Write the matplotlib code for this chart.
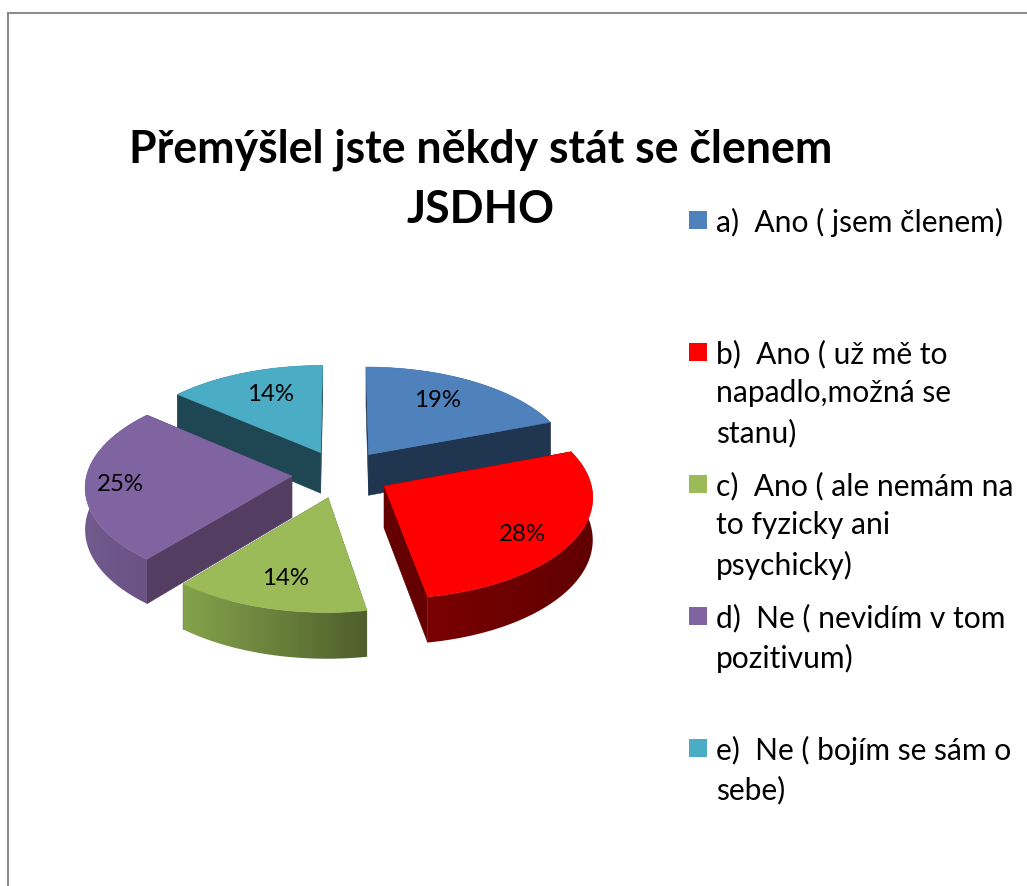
import matplotlib.pyplot as plt
import numpy as np
from matplotlib.colors import LinearSegmentedColormap
from matplotlib.patches import Polygon

plt.rcParams['font.family'] = ['Lato', 'DejaVu Sans']

title_lines = ["Přemýšlel jste někdy stát se členem", "JSDHO"]
categories = [
    "a)  Ano ( jsem členem)",
    "b)  Ano ( už mě to\nnapadlo,možná se\nstanu)",
    "c)  Ano ( ale nemám na\nto fyzicky ani\npsychicky)",
    "d)  Ne ( nevidím v tom\npozitivum)",
    "e)  Ne ( bojím se sám o\nsebe)",
]
values = [19.4, 27.8, 13.9, 25.0, 13.9]

top_colors = ['#4F81BD', '#FF0000', '#9BBB59', '#8064A2', '#4BACC6']
face_colors = ['#203550', '#640000', '#4F5F2C', '#533E62', '#1F4653']
rim_left = ['#203550', '#7A0000', '#84A34C', '#715A8E', '#1F4653']
rim_right = ['#203550', '#600000', '#4F5F2C', '#6A5284', '#1F4653']

# label positions in pixels (x, y) of the reference
label_x = [438, 522, 286, 120, 271]
label_y = [401, 535, 579, 485, 395]

# pie geometry in pixels
CX, CY = 341, 475
RX, RY = 205, 100.7
PERSP = 0.094
EXPLODE = 0.24
DEPTH = 41.5

# painter order: teal, blue, green, purple, red
wedge_order = [3, 6, 4, 5, 2]


def project(u, v, drop=0.0):
    """Plane coordinates of the pie -> pixels, with a bit of perspective."""
    scale = 1 - PERSP * v
    return CX + RX * u * scale, CY - RY * v * scale + drop * scale


def draw_wedge(ax, start, end, idx):
    z = wedge_order[idx]
    mid = (start + end) / 2
    off_u = EXPLODE * np.sin(mid)
    off_v = EXPLODE * np.cos(mid)

    th = np.linspace(start, end, 90)
    rim_u = off_u + np.sin(th)
    rim_v = off_v + np.cos(th)
    top_x, top_y = project(rim_u, rim_v)
    low_x, low_y = project(rim_u, rim_v, DEPTH)
    apex_x, apex_y = project(off_u, off_v)
    apex_lx, apex_ly = project(off_u, off_v, DEPTH)

    # cut faces
    for k in (0, -1):
        ax.fill([apex_x, top_x[k], low_x[k], apex_lx], [apex_y, top_y[k], low_y[k], apex_ly],
                color=face_colors[idx], lw=0.4, zorder=z)

    # outer rim, horizontal gradient clipped to the rim outline
    rim_xy = np.c_[np.r_[top_x, low_x[::-1]], np.r_[top_y, low_y[::-1]]]
    rim_patch = Polygon(rim_xy, closed=True, facecolor='none', edgecolor='none',
                        transform=ax.transData)
    ax.add_patch(rim_patch)
    cmap = LinearSegmentedColormap.from_list('rim', [rim_left[idx], rim_right[idx]])
    grad = np.linspace(0, 1, 256).reshape(1, -1)
    img = ax.imshow(grad, cmap=cmap, aspect='auto', zorder=z, interpolation='bilinear',
                    extent=[top_x.min(), top_x.max(), low_y.max(), top_y.min()])
    img.set_clip_path(rim_patch)

    # top surface
    ax.fill(np.r_[apex_x, top_x], np.r_[apex_y, top_y], color=top_colors[idx], lw=0.4, zorder=z)


fig = plt.figure(figsize=(10.27, 8.87), dpi=100)
ax = fig.add_axes([0, 0, 1, 1])

# gray frame of the picture, open at right and bottom
ax.plot([7.5, 7.5, 1027], [887, 13.5, 13.5], color='#8C8C8C', lw=1.5, solid_joinstyle='miter')

edges = np.r_[0, np.cumsum(values)] / sum(values) * 2 * np.pi
for i in range(len(values)):
    draw_wedge(ax, edges[i], edges[i + 1], i)

for i, v in enumerate(values):
    ax.text(label_x[i], label_y[i], f"{v:.0f}%", fontsize=17.3, color='black', ha='center',
            va='center', zorder=10)

# title lines as separate texts, so the block does not run into the legend
for i, line in enumerate(title_lines):
    ax.text(481, 150 + i * 60, line, fontsize=32.1, fontweight='bold', color='black',
            ha='center', va='center')

# legend
for i, name in enumerate(categories):
    y = 222 + i * 132
    ax.fill([689, 707, 707, 689], [y - 10, y - 10, y + 8, y + 8], color=top_colors[i], lw=0)
    ax.text(716, y - 14, name, fontsize=21.6, color='black', ha='left', va='top', linespacing=1.47)

ax.set_xlim(0, 1027)
ax.set_ylim(887, 0)
ax.axis('off')

fig.savefig('out.png', dpi=100)
